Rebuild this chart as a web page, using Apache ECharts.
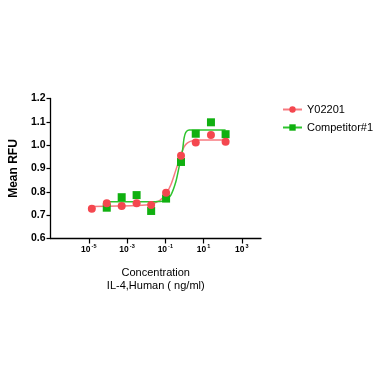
<!DOCTYPE html>
<html><head><meta charset="utf-8">
<script src="https://cdn.jsdelivr.net/npm/echarts@6/dist/echarts.min.js"></script>
<style>html,body{margin:0;padding:0;background:#fff}#c{width:385px;height:385px}</style>
</head><body><div id="c"></div>
<script>
// log10 concentration (ng/ml)
const logConc = [-4.84, -4.06, -3.28, -2.5, -1.74, -0.96, -0.18, 0.59, 1.385, 2.15];
const y02201 = [0.727, 0.751, 0.739, 0.751, 0.744, 0.796, 0.955, 1.011, 1.044, 1.015];
const compLogConc = [-4.06, -3.28, -2.5, -1.74, -0.96, -0.18, 0.59, 1.385, 2.15];
const competitor = [0.732, 0.777, 0.786, 0.718, 0.771, 0.928, 1.049, 1.098, 1.047];
// fitted curves
const y02201Curve = [[-4.84,0.737],[-3.5,0.739],[-2.5,0.741],[-1.75,0.747],[-1.3,0.762],[-0.97,0.790],[-0.71,0.830],[-0.45,0.893],[-0.19,0.957],[-0.02,0.993],[0.16,1.010],[0.42,1.019],[0.8,1.022],[2.15,1.022]];
const competitorCurve = [[-4.06,0.757],[-2.5,0.757],[-1.5,0.758],[-1.0,0.763],[-0.71,0.786],[-0.45,0.843],[-0.28,0.907],[-0.10,0.979],[-0.02,1.030],[0.07,1.055],[0.24,1.065],[0.8,1.065],[2.15,1.065]];
const xTicks = [-5, -3, -1, 1, 3];
const seriesNames = ['Y02201', 'Competitor#1'];
const red = '#F4474F', redLine = '#F77A80', green = '#10B010', greenLine = '#2EC42E';

const chart = echarts.init(document.getElementById('c'));
chart.setOption({
  animation: false,
  grid: {left: 49.5, right: 124, top: 98.5, bottom: 146.5},
  legend: {
    data: seriesNames, orient: 'vertical', left: 277, top: 99, itemGap: 7,
    itemWidth: 19, itemHeight: 8,
    textStyle: {fontFamily: 'Liberation Sans, Arial', fontSize: 11, color: '#000'}
  },
  xAxis: {
    type: 'value', min: -7, max: 4,
    name: 'Concentration\nIL-4,Human ( ng/ml)', nameLocation: 'middle', nameGap: 28,
    nameTextStyle: {fontFamily: 'Liberation Sans, Arial', fontSize: 11, color: '#000', lineHeight: 13},
    axisLine: {onZero: false, lineStyle: {color: '#000', width: 1.3}},
    axisTick: {customValues: xTicks, length: 5, lineStyle: {color: '#000', width: 1.2}},
    axisLabel: {
      customValues: xTicks, margin: 5,
      formatter: v => '{b|10}{s|' + v + '}',
      rich: {
        b: {fontFamily: 'Liberation Sans, Arial', fontSize: 8.5, fontWeight: 'bold', color: '#000', lineHeight: 11, verticalAlign: 'bottom'},
        s: {fontFamily: 'Liberation Sans, Arial', fontSize: 5.5, fontWeight: 'bold', color: '#000', lineHeight: 7, verticalAlign: 'top', padding: [0,0,0,1]}
      }
    },
    splitLine: {show: false}
  },
  yAxis: {
    type: 'value', min: 0.6, max: 1.2, interval: 0.1,
    name: 'Mean RFU', nameLocation: 'middle', nameGap: 29, nameRotate: 90,
    nameTextStyle: {fontFamily: 'Liberation Sans, Arial', fontSize: 12, fontWeight: 'bold', color: '#000'},
    axisLine: {show: true, onZero: false, lineStyle: {color: '#000', width: 1.3}},
    axisTick: {show: true, length: 4, lineStyle: {color: '#000', width: 1.2}},
    axisLabel: {formatter: v => v.toFixed(1), margin: 5,
      fontFamily: 'Liberation Sans, Arial', fontSize: 10.5, fontWeight: 'bold', color: '#000'},
    splitLine: {show: false}
  },
  series: [
    {name: seriesNames[0], type: 'line', data: y02201Curve, smooth: 0.3, showSymbol: false,
     symbol: 'circle', symbolSize: 7, itemStyle: {color: red}, lineStyle: {color: redLine, width: 1.5}, z: 2},
    {name: seriesNames[1], type: 'line', data: competitorCurve, smooth: 0.3, showSymbol: false,
     symbol: 'rect', symbolSize: 7, itemStyle: {color: green}, lineStyle: {color: greenLine, width: 1.5}, z: 2},
    {name: seriesNames[0], type: 'scatter', symbol: 'circle', symbolSize: 8,
     data: logConc.map((x, i) => [x, y02201[i]]), itemStyle: {color: red, opacity: 1}, z: 4},
    {name: seriesNames[1], type: 'scatter', symbol: 'rect', symbolSize: 8,
     data: compLogConc.map((x, i) => [x, competitor[i]]), itemStyle: {color: green, opacity: 1}, z: 3}
  ]
});
</script></body></html>
